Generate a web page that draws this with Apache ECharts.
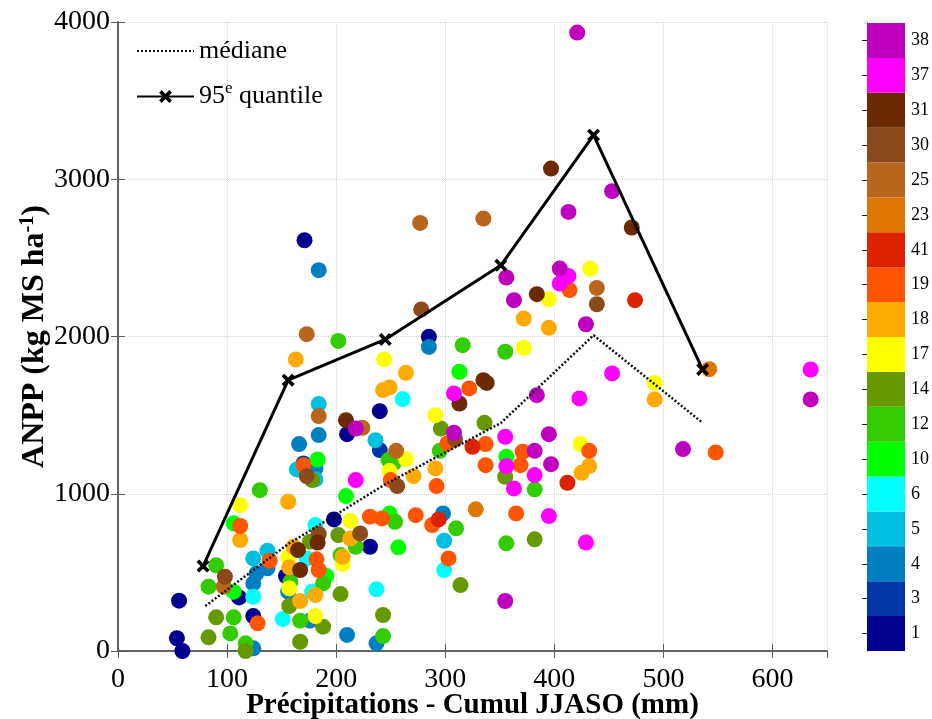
<!DOCTYPE html>
<html><head><meta charset="utf-8">
<script src="https://cdn.jsdelivr.net/npm/echarts@6/dist/echarts.min.js"></script>
<style>html,body{margin:0;padding:0;background:#fff}#c{width:932px;height:719px}</style>
</head><body><div id="c"></div>
<script>
// Category labels of the colour bar (bottom to top)
const categories = ['1','3','4','5','6','10','12','14','17','18','19','41','23','25','30','31','37','38'];
const palette = ['#00008F','#0038A8','#0080C0','#00BFE0','#00FFFF','#00FF00','#33CC00','#669900','#FFFF00','#FFAA00','#FF5500','#DD2200','#DD7700','#B8661E','#8B4A1C','#6B2A00','#FF00FF','#BF00BF'];

// Points [precipitation mm, ANPP] per category
const c1  = [[56,320],[54,81],[59,0],[111,341],[124,222],[154,477],[198,837],[231,663],[171,2612],[240,1525],[210,1379],[285,1998]];
const c3  = [[240,1278],[170,1193]];
const c4  = [[184,2422],[166,1316],[184,1373],[285,1934],[124,430],[127,494],[137,526],[124,17],[176,193],[237,49],[210,102],[298,875],[181,1161],[156,377]];
const c5  = [[184,1570],[236,1341],[124,589],[137,638],[164,1155],[299,701],[181,1091]];
const c6  = [[261,1602],[124,345],[151,203],[173,589],[178,377],[181,801],[237,392],[299,515]];
const c10 = [[106,377],[106,812],[191,477],[209,985],[257,659],[183,1218],[313,1776],[356,1235],[249,875]];
const c12 = [[83,409],[90,545],[103,112],[106,214],[117,49],[130,1023],[167,193],[158,440],[188,430],[218,663],[204,610],[243,95],[254,822],[310,780],[202,1972],[248,1214],[253,1197],[316,1945],[355,1903],[295,1273],[382,1028],[356,685]];
const c14 = [[83,87],[90,214],[117,0],[188,155],[167,59],[157,286],[178,1087],[202,737],[204,362],[243,229],[314,419],[296,1415],[336,1451],[355,1108],[382,710],[176,695]];
const c17 = [[112,928],[157,398],[156,596],[181,222],[213,828],[206,553],[244,1854],[264,1220],[249,1144],[291,1500],[372,1928],[395,2237],[433,2432],[424,1316],[492,1705]];
const c18 = [[112,706],[156,949],[167,318],[157,532],[161,663],[181,356],[213,716],[206,599],[271,1112],[291,1161],[163,1854],[264,1769],[243,1659],[249,1676],[372,2114],[395,2055],[432,1176],[425,1133],[492,1600]];
const c19 = [[112,795],[128,176],[139,574],[182,583],[184,515],[170,1182],[231,854],[242,843],[273,864],[288,801],[303,589],[292,1049],[250,1087],[322,1670],[414,2295],[302,1320],[337,1316],[432,1273],[371,1267],[369,1182],[337,1182],[365,875],[548,1263]];
const c41 = [[294,837],[325,1299],[412,1070],[474,2231]];
const c23 = [[328,901],[542,1792]];
const c25 = [[97,409],[173,2015],[184,1494],[224,1419],[255,1273],[277,2722],[335,2750],[439,2309]];
const c30 = [[98,472],[184,744],[173,1112],[256,1049],[222,748],[278,2172],[309,1346],[439,2205]];
const c31 = [[165,642],[167,515],[183,690],[209,1468],[397,3068],[471,2693],[384,2269],[335,1722],[338,1705],[313,1574]];
const c37 = [[218,1087],[413,2384],[405,2337],[453,1765],[423,1606],[635,1790],[308,1638],[355,1362],[356,1176],[382,1119],[363,1034],[395,858],[429,690]];
const c38 = [[421,3933],[413,2792],[453,2924],[356,2375],[405,2432],[363,2231],[429,2078],[218,1415],[384,1627],[308,1388],[395,1379],[382,1273],[397,1188],[518,1284],[635,1600],[355,318]];
const pointsByCategory = [c1,c3,c4,c5,c6,c10,c12,c14,c17,c18,c19,c41,c23,c25,c30,c31,c37,c38];

// Median and 95th quantile curves
const medianX = [80,156,245,351,436,536];
const medianY = [286,680,1060,1450,2008,1451];
const q95X = [78,156,245,351,436,536];
const q95Y = [540,1722,1981,2453,3280,1790];

const xTicks = [0,100,200,300,400,500,600];
const yTicks = [0,1000,2000,3000,4000];

const FONT = 'Liberation Serif';
const chart = echarts.init(document.getElementById('c'), null, {renderer:'canvas'});
const frame = '#5a5a5a';
const crossPath = 'path://M2,0 L5,3 L8,0 L10,2 L7,5 L10,8 L8,10 L5,7 L2,10 L0,8 L3,5 L0,2 Z';

const scatterSeries = pointsByCategory.map((pts, i) => ({
  type:'scatter', name:'cat'+categories[i], xAxisIndex:0, yAxisIndex:0,
  data: pts, symbolSize:16, itemStyle:{color: palette[i], opacity:1}, z:2
}));

const option = {
  animation:false,
  backgroundColor:'#fff',
  grid:[
    {left:118, top:22, width:709, height:629, show:false, containLabel:false, outerBoundsMode:'none'},
    {left:867, top:23, width:38, height:628, show:false, containLabel:false, outerBoundsMode:'none'}
  ],
  legend:{
    data:[{name:'médiane', itemStyle:{opacity:0}}, {name:'95e quantile'}],
    orient:'vertical', left:131, top:33,
    itemWidth:57, itemHeight:16, itemGap:16,
    textStyle:{fontFamily:FONT, fontSize:26, color:'#000',
      rich:{sup:{fontFamily:FONT, fontSize:17, color:'#000', verticalAlign:'bottom', padding:[0,0,16,0]}}},
    formatter: n => n === '95e quantile' ? '95{sup|e} quantile' : n
  },
  xAxis:[
    {type:'value', gridIndex:0, min:0, max:650, interval:100, position:'bottom',
     name:'Précipitations - Cumul JJASO (mm)', nameLocation:'middle', nameGap:40, nameMoveOverlap:false,
     nameTextStyle:{fontFamily:FONT, fontSize:29, fontWeight:'bold', color:'#000'},
     axisLine:{show:true, lineStyle:{color:frame, width:1.5}},
     axisTick:{show:true, inside:true, length:7, lineStyle:{color:frame}},
     axisLabel:{fontFamily:FONT, fontSize:28, color:'#000', margin:15, showMaxLabel:false,
       formatter: v => xTicks.includes(v) ? String(v) : ''},
     splitLine:{show:true, lineStyle:{color:'#d4d4d4', type:'dotted', width:1}}},
    {type:'value', gridIndex:0, min:0, max:650, interval:100, position:'top',
     axisLine:{show:true, lineStyle:{color:frame, width:1.5}},
     axisTick:{show:true, inside:true, length:7, lineStyle:{color:frame}},
     axisLabel:{show:false}, splitLine:{show:false}},
    {type:'value', gridIndex:1, min:0, max:1, show:false}
  ],
  yAxis:[
    {type:'value', gridIndex:0, min:0, max:4000, interval:1000,
     name:'ANPP (kg MS ha{sup|-1})', nameLocation:'middle', nameGap:66, nameMoveOverlap:false,
     nameTextStyle:{fontFamily:FONT, fontSize:32, fontWeight:'bold', color:'#000',
       rich:{sup:{fontFamily:FONT, fontSize:20, fontWeight:'bold', color:'#000', padding:[0,0,14,0]}}},
     axisLine:{show:true, lineStyle:{color:frame, width:1.5}},
     axisTick:{show:true, inside:true, length:7, lineStyle:{color:frame}},
     axisLabel:{fontFamily:FONT, fontSize:28, color:'#000', margin:8,
       formatter: v => yTicks.includes(v) ? String(v) : ''},
     splitLine:{show:true, lineStyle:{color:'#d4d4d4', type:'dotted', width:1}}},
    {type:'value', gridIndex:0, min:0, max:4000, interval:1000, position:'right',
     axisLine:{show:true, lineStyle:{color:frame, width:1.5}},
     axisTick:{show:true, inside:true, length:7, lineStyle:{color:frame}},
     axisLabel:{show:false}, splitLine:{show:false}},
    {type:'category', gridIndex:1, data:categories, position:'right',
     axisLine:{show:true, lineStyle:{color:frame, width:1}},
     axisTick:{show:true, inside:true, alignWithLabel:true, length:5, lineStyle:{color:'#222'}},
     axisLabel:{fontFamily:FONT, fontSize:18, color:'#000', margin:6}},
    {type:'category', gridIndex:1, data:categories, position:'left',
     axisLine:{show:true, lineStyle:{color:frame, width:1}},
     axisTick:{show:true, inside:true, alignWithLabel:true, length:5, lineStyle:{color:'#222'}},
     axisLabel:{show:false}}
  ],
  series:[
    ...scatterSeries,
    {type:'line', name:'médiane', xAxisIndex:0, yAxisIndex:0,
     data: medianX.map((x,i)=>[x, medianY[i]]), symbol:'none',
     lineStyle:{color:'#111', width:2.5, type:[2,2]}, itemStyle:{color:'#111'}, z:5},
    {type:'line', name:'95e quantile', xAxisIndex:0, yAxisIndex:0,
     data: q95X.map((x,i)=>[x, q95Y[i]]), symbol:crossPath, symbolSize:13,
     lineStyle:{color:'#000', width:3}, itemStyle:{color:'#000'}, z:6},
    {type:'bar', name:'colorbar', xAxisIndex:2, yAxisIndex:2,
     data: categories.map((c,i)=>({value:1, itemStyle:{color:palette[i]}})),
     barWidth:'100%', barCategoryGap:0, silent:true}
  ]
};
chart.setOption(option);
</script></body></html>
